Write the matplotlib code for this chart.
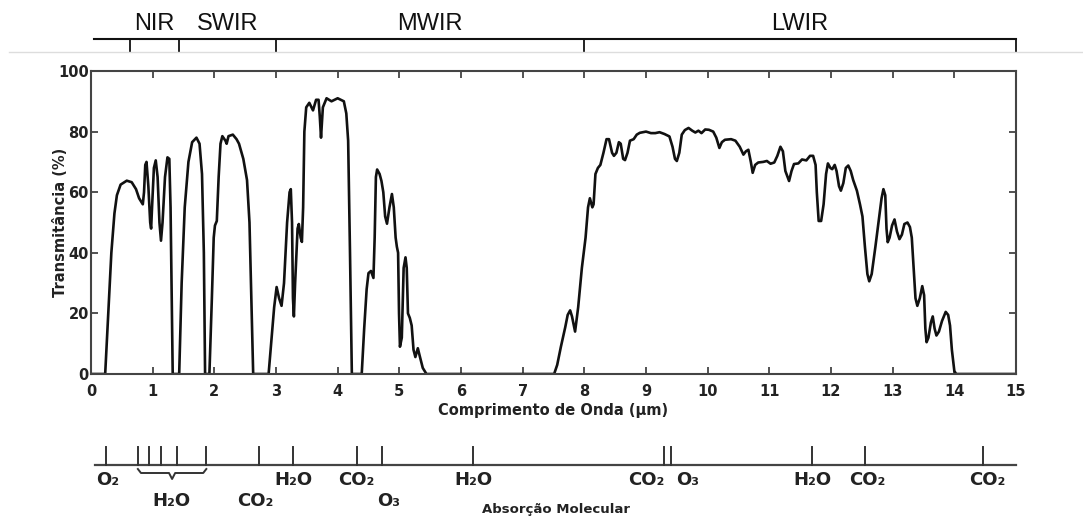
import matplotlib.pyplot as plt
from matplotlib.transforms import blended_transform_factory
from matplotlib.lines import Line2D

# curva de transmitancia (um, %)
wavelength = [
    0.0, 0.23, 0.28, 0.33, 0.38, 0.42, 0.48, 0.58, 0.66, 0.73, 0.78, 0.84, 0.86, 0.88, 0.9,
    0.93, 0.96, 0.975, 0.99, 1.02, 1.05, 1.08, 1.11, 1.135, 1.16, 1.2, 1.24, 1.27, 1.29, 1.31, 1.325,
    1.43, 1.47, 1.52, 1.58, 1.64, 1.71, 1.76, 1.8, 1.83, 1.85,
    1.92, 1.96, 1.99, 2.01, 2.04, 2.07, 2.1, 2.13, 2.18, 2.2, 2.23, 2.3, 2.36, 2.4, 2.47, 2.53,
    2.57, 2.6, 2.63,
    2.88, 2.93, 2.97, 3.01, 3.05, 3.09, 3.13, 3.18, 3.22, 3.24, 3.26, 3.275, 3.29, 3.31, 3.35,
    3.37, 3.4, 3.42, 3.44, 3.46, 3.49, 3.54, 3.6, 3.65, 3.69, 3.71, 3.73, 3.76, 3.82, 3.9, 4.0,
    4.1, 4.14, 4.17, 4.2, 4.23,
    4.39, 4.43, 4.47, 4.5, 4.54, 4.58, 4.6, 4.62, 4.64, 4.68, 4.71, 4.74, 4.77, 4.8, 4.84, 4.88,
    4.91, 4.94, 4.96, 4.98, 4.995, 5.01, 5.04, 5.07, 5.1, 5.12, 5.14, 5.17, 5.2, 5.23, 5.26, 5.3,
    5.33, 5.38, 5.44,
    7.51, 7.56, 7.62, 7.69, 7.73, 7.77, 7.8, 7.85, 7.9, 7.96, 8.02, 8.06, 8.09, 8.13, 8.15, 8.18,
    8.22, 8.26, 8.31, 8.36, 8.4, 8.45, 8.48, 8.52, 8.56, 8.59, 8.63, 8.66, 8.7, 8.74, 8.8, 8.85,
    8.9, 9.0, 9.08, 9.15, 9.22, 9.3, 9.38, 9.43, 9.47, 9.5, 9.54, 9.58, 9.63, 9.69, 9.75, 9.8,
    9.85, 9.9, 9.96, 10.02, 10.09, 10.14, 10.19, 10.23, 10.28, 10.38, 10.45, 10.52, 10.58, 10.62,
    10.66, 10.7, 10.73, 10.77, 10.82, 10.9, 10.96, 11.02, 11.08, 11.13, 11.18, 11.22, 11.26, 11.32,
    11.36, 11.4, 11.47, 11.53, 11.6, 11.66, 11.71, 11.75, 11.77, 11.8, 11.84, 11.88, 11.92, 11.95,
    11.99, 12.02, 12.06, 12.09, 12.13, 12.16, 12.2, 12.24, 12.28, 12.32, 12.36, 12.42, 12.47,
    12.51, 12.55, 12.59, 12.62, 12.66, 12.72, 12.77, 12.82, 12.85, 12.88, 12.9, 12.92, 12.95,
    12.99, 13.03, 13.07, 13.11, 13.15, 13.19, 13.24, 13.28, 13.31, 13.34, 13.37, 13.4, 13.44,
    13.48, 13.51, 13.53, 13.55, 13.58, 13.62, 13.65, 13.68, 13.71, 13.75, 13.8, 13.86, 13.9,
    13.93, 13.96, 14.0, 14.03, 15.0,
]
transmit = [
    0, 0, 20, 40, 53, 59, 62.5, 63.8, 63.3, 61, 58, 56, 60, 69, 70,
    62, 50, 48, 55, 68, 70.5, 65, 50, 44, 50, 65, 71.5, 71, 55, 25, 0,
    0, 30, 55, 70, 76.5, 78, 76, 66, 40, 0,
    0, 25, 45, 49, 50.5, 65, 76, 78.5, 77, 76, 78.5, 79, 77.5, 76, 71, 64,
    50, 25, 0,
    0, 12, 22, 28.7, 25, 22.5, 30, 50, 60, 61, 50, 25, 19, 30, 48,
    49.5, 45, 43.6, 55, 80, 88, 89.5, 87, 90.5, 90.5, 85, 78, 88, 91, 90, 91,
    90, 86, 77, 40, 0,
    0, 15, 28, 33.3, 34, 31.7, 45, 65, 67.5, 66, 63.7, 60, 52, 49.6, 55, 59.4,
    55, 45, 42, 40, 20, 9, 12, 35, 38.5, 35, 20, 18.5, 16, 8, 5.6, 8.5,
    6, 2, 0,
    0, 3, 9, 15.4, 19.5, 21, 19, 14, 22, 35, 45, 55, 58, 55, 56, 66,
    68, 69, 73, 77.5, 77.5, 73, 72, 73, 76.5, 76, 71, 70.6, 73, 77, 77.5, 79,
    79.6, 80, 79.5, 79.5, 79.8, 79.2, 78.4, 75, 71, 70.3, 73, 79, 80.5, 81.2, 80.3, 79.7,
    80.3, 79.5, 80.7, 80.6, 80, 78, 74.6, 76.5, 77.3, 77.5, 77, 75, 72.4, 73.5,
    74, 70, 66.4, 69, 69.8, 70, 70.3, 69.4, 69.8, 72, 75, 73.5, 67, 63.7,
    67, 69.3, 69.5, 70.8, 70.5, 72, 72, 69, 60, 50.5, 50.5, 56, 66, 69.5,
    68, 67.6, 69, 67, 62, 60.5, 63, 68, 68.8, 67, 64, 60.5, 56,
    52, 42, 33, 30.6, 33, 42, 50, 58, 61, 59, 48, 43.5, 45,
    49, 51, 47, 44.5, 46, 49.5, 50, 48.5, 45, 35, 25, 22.5, 25,
    29, 26, 15, 10.5, 12, 17, 19, 15, 12.7, 14, 17.5, 20.5, 19.5,
    16, 8, 1, 0, 0,
]

x_ticks = list(range(0, 16))
y_ticks = [0, 20, 40, 60, 80, 100]

# faixas espectrais (topo)
bands = ['NIR', 'SWIR', 'MWIR', 'LWIR']
band_edges = [0.63, 1.43, 3.0, 8.0, 15.0]
band_line_start = 0.05

# absorcao molecular (base)
absorb_ticks = [0.24, 0.76, 0.94, 1.14, 1.39, 1.87, 2.72, 3.28, 4.31, 4.72, 6.2,
                9.29, 9.41, 11.7, 12.55, 14.47]
molecules = ['O₂', 'H₂O', 'CO₂', 'H₂O', 'CO₂', 'O₃', 'H₂O', 'CO₂', 'O₃', 'H₂O', 'CO₂', 'CO₂']
mol_x = [0.27, 1.31, 2.66, 3.28, 4.31, 4.82, 6.2, 9.0, 9.68, 11.7, 12.59, 14.53]
mol_row = [0, 1, 1, 0, 0, 1, 0, 0, 0, 0, 0, 0]
h2o_brace = (0.76, 1.87)

W, H = 1083, 518
fig = plt.figure(figsize=(W / 100, H / 100), dpi=100)
ax = fig.add_axes([91 / W, 1 - 374 / H, (1016 - 91) / W, (374 - 71) / H])

ax.plot(wavelength, transmit, color='#111111', lw=1.9, solid_joinstyle='round',
        solid_capstyle='round')
ax.set_xlim(0, 15)
ax.set_ylim(0, 100)
ax.set_xticks(x_ticks)
ax.set_yticks(y_ticks)
ax.tick_params(direction='in', top=True, right=True, length=5, width=1.3,
               color='#444444', labelsize=10.5, pad=1.5)
ax.tick_params(axis='x', pad=7)
for lab in ax.get_xticklabels() + ax.get_yticklabels():
    lab.set_fontweight('bold')
    lab.set_color('#222222')
for s in ax.spines.values():
    s.set_color('#444444')
    s.set_linewidth(1.5)
ax.set_xlabel('Comprimento de Onda (µm)', fontsize=10.5, fontweight='bold', labelpad=3,
              color='#222222')
ax.set_ylabel('Transmitância (%)', fontsize=10.5, fontweight='bold', color='#222222')
ax.yaxis.set_label_coords(-0.025, 0.5)

tr = blended_transform_factory(ax.transData, fig.transFigure)

# barra superior
y_band = 1 - 39 / H
y_band_tick = 1 - 52 / H
ax.plot([band_line_start, band_edges[-1]], [y_band, y_band], color='#111111', lw=1.5,
        transform=tr, clip_on=False)
for e in band_edges:
    ax.plot([e, e], [y_band, y_band_tick], color='#111111', lw=1.3, transform=tr, clip_on=False)
for i, name in enumerate(bands):
    xc = (band_edges[i] + band_edges[i + 1]) / 2
    ax.text(xc, 1 - 24 / H, name, transform=tr, ha='center', va='center', fontsize=17,
            family='Liberation Sans', color='#111111')
fig.add_artist(Line2D([9 / W, 1], [y_band_tick, y_band_tick], color='#dddddd', lw=1.0))

# barra inferior
y_ab = 1 - 465 / H
y_ab_tick = 1 - 447 / H
ax.plot([0.06, 15], [y_ab, y_ab], color='#444444', lw=1.6, transform=tr, clip_on=False)
for t in absorb_ticks:
    ax.plot([t, t], [y_ab, y_ab_tick], color='#333333', lw=1.4, transform=tr, clip_on=False)
row_y = [1 - 480 / H, 1 - 501 / H]
for m, xm, r in zip(molecules, mol_x, mol_row):
    ax.text(xm, row_y[r], m, transform=tr, ha='center', va='center', fontsize=13,
            fontweight='bold', color='#222222')

b0, b1 = h2o_brace
bm = (b0 + b1) / 2
yt, ym, yl = 1 - 469 / H, 1 - 473 / H, 1 - 479 / H
ax.plot([b0, b0 + 0.05, bm - 0.05, bm, bm + 0.05, b1 - 0.05, b1],
        [yt, ym, ym, yl, ym, ym, yt], color='#333333', lw=1.4, transform=tr, clip_on=False)

fig.text(556 / W, 1 - 510 / H, 'Absorção Molecular', ha='center', va='center',
         fontsize=9.5, fontweight='bold', color='#222222')

fig.savefig('out.png', dpi=100, facecolor='white')
